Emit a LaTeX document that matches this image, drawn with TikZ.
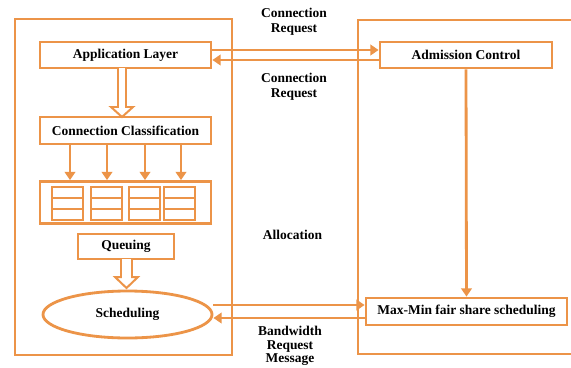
\documentclass[tikz,border=0pt]{standalone}
\usepackage{fontspec}
\setmainfont{Liberation Serif}
\usetikzlibrary{shapes.geometric,arrows.meta}
\definecolor{orng}{RGB}{236,148,72}

\begin{document}
\begin{tikzpicture}[x=0.03cm,y=-0.03cm,>={Triangle[length=7pt,width=9pt]},
  every node/.style={font=\fontsize{11.5}{12.5}\selectfont\bfseries},
  blk/.style={draw=orng,line width=2.4pt,inner sep=0pt},
  cell/.style={draw=orng,line width=1.8pt},
  link/.style={draw=orng,line width=2.4pt,->},
  hollow/.style={draw=orng,line width=1.7pt,fill=white,line join=miter},
  lbl/.style={align=center}]
\useasboundingbox[fill=white] (0,0) rectangle (571,367);
%frames
\draw[blk] (15,19) rectangle (232,355);
\draw[blk] (358,20) rectangle (590,354);
%user side
\node[blk,minimum width=5.13cm,minimum height=0.78cm] (app) at (125.5,55) {Application Layer};
\node[blk,minimum width=5.13cm,minimum height=0.81cm] (cls) at (125.5,130.5) {Connection Classification};
\node[blk,minimum width=5.13cm,minimum height=1.26cm] (queues) at (125.5,202.5) {};
\node[blk,minimum width=2.88cm,minimum height=0.75cm] (queuing) at (126,246.5) {Queuing};
\node[blk,ellipse,minimum width=5.07cm,minimum height=1.41cm] (sched) at (127.5,314.5) {Scheduling};
%queues
\foreach \x in {52,91,129,164}
{
  \draw[cell] (\x,187) rectangle +(31,33);
  \draw[cell] (\x,198) -- +(31,0);
  \draw[cell] (\x,209) -- +(31,0);
}
%hollow arrows
\draw[hollow] (118,68) -- (118,107) -- (111,107) -- (122,117) -- (133,107) -- (126,107) -- (126,68);
\draw[hollow] (121,259) -- (121,277) -- (115,277) -- (126.5,288) -- (138,277) -- (132,277) -- (132,259);
%base station side
\node[blk,minimum width=5.16cm,minimum height=0.78cm] (adm) at (466,55) {Admission Control};
\node[blk,minimum width=6.03cm,minimum height=0.81cm] (maxmin) at (466.5,311.5) {Max-Min fair share scheduling};
%connectors
\draw[link] (app.east |- 0,50) -- (adm.west |- 0,50);
\draw[link] (adm.west |- 0,60) -- (app.east |- 0,60);
\foreach \x in {70,107,145,181}
  \draw[link] (\x,0 |- cls.south) -- (\x,0 |- queues.north);
\draw[link] (adm.south) -- (maxmin.north);
\draw[link] (sched.east |- 0,305) -- (maxmin.west |- 0,305);
\draw[link] (maxmin.west |- 0,318) -- (sched.east |- 0,318);
%labels
\node[lbl] (req1) at (294,22) {Connection\\Request};
\node[lbl] (req2) at (294,86.5) {Connection\\Request};
\node (alloc) at (292.5,235) {Allocation};
\node[lbl,font=\fontsize{11.5}{11.5}\selectfont\bfseries] (bwreq) at (290,346) {Bandwidth\\Request\\Message};
\end{tikzpicture}
\end{document}
